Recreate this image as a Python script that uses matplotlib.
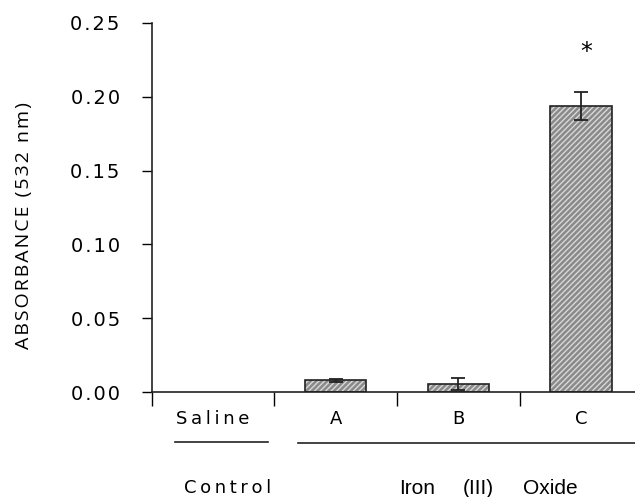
import matplotlib
matplotlib.use('Agg')
import matplotlib.pyplot as plt
import numpy as np

plt.rc('font', family=['DejaVu Sans'], size=13)

# data
groups = ['Saline', 'A', 'B', 'C']
absorbance = [0.0, 0.008, 0.0055, 0.194]
sem = [0.0, 0.001, 0.004, 0.0095]
y_ticks = [0.00, 0.05, 0.10, 0.15, 0.20, 0.25]

THIN = '\u2009'
HAIR = '\u200a'


def spaced(s, gap=THIN):
    # mimic the wide letter spacing of the original typeface
    return gap.join(s)


x = np.arange(len(groups))

fig = plt.figure(figsize=(6.35, 4.97), dpi=100)
ax = fig.add_axes([0.239, 0.211, 0.761, 0.743])

# grey fill with light diagonal hatch, then black outline
ax.bar(x[1:], absorbance[1:], width=0.5, color='#8a8a8a', edgecolor='#d8d8d8',
       hatch='//////', linewidth=0, zorder=2)
ax.bar(x[1:], absorbance[1:], width=0.5, fill=False, edgecolor='#222222',
       linewidth=1.2, zorder=3)
ax.errorbar(x[1:], absorbance[1:], yerr=sem[1:], fmt='none', ecolor='#222222',
            elinewidth=1.3, capsize=5, capthick=1.3, zorder=4)
ax.text(x[3] + 0.04, 0.230, '*', ha='center', va='center', fontsize=17)

ax.set_xlim(-0.5, 3.44)
ax.set_ylim(0, 0.25)
ax.set_yticks(y_ticks)
ax.set_yticklabels([spaced('%.2f' % v, HAIR) for v in y_ticks],
                   family=['DejaVu Sans'])
ax.set_xticks([-0.5, 0.5, 1.5, 2.5])
ax.set_xticklabels([])
ax.tick_params(axis='y', direction='out', length=7, width=1, pad=16,
               labelsize=14)
ax.tick_params(axis='x', direction='out', length=10, width=1)
for s in ['top', 'right']:
    ax.spines[s].set_visible(False)
for s in ['left', 'bottom']:
    ax.spines[s].set_linewidth(1.2)
    ax.spines[s].set_color('#222222')
ax.spines['bottom'].set_zorder(5)

ax.set_ylabel(spaced('ABSORBANCE (532 nm)', HAIR),
              family=['Open Sans', 'DejaVu Sans'], fontsize=14)
ax.yaxis.set_label_coords(-0.245, 0.45)

trans = ax.get_xaxis_transform()
# group labels under the axis
for xi, g in zip(x, groups):
    ax.text(xi, -0.073, spaced(g), ha='center', va='center', fontsize=13,
            transform=trans)

ax.plot([-0.31, 0.45], [-0.136, -0.136], color='#222222', lw=1.2,
        transform=trans, clip_on=False)
ax.plot([0.69, 3.44], [-0.138, -0.138], color='#222222', lw=1.2,
        transform=trans, clip_on=False)
ax.text(0.12, -0.26, spaced('Control'), ha='center', va='center', fontsize=13,
        transform=trans)
for word, xw in zip(['Iron', '(III)', 'Oxide'], [1.66, 2.16, 2.75]):
    ax.text(xw, -0.26, word, ha='center', va='center',
            family=['Liberation Sans'], fontsize=15, transform=trans)

fig.savefig('out.png', dpi=100)
